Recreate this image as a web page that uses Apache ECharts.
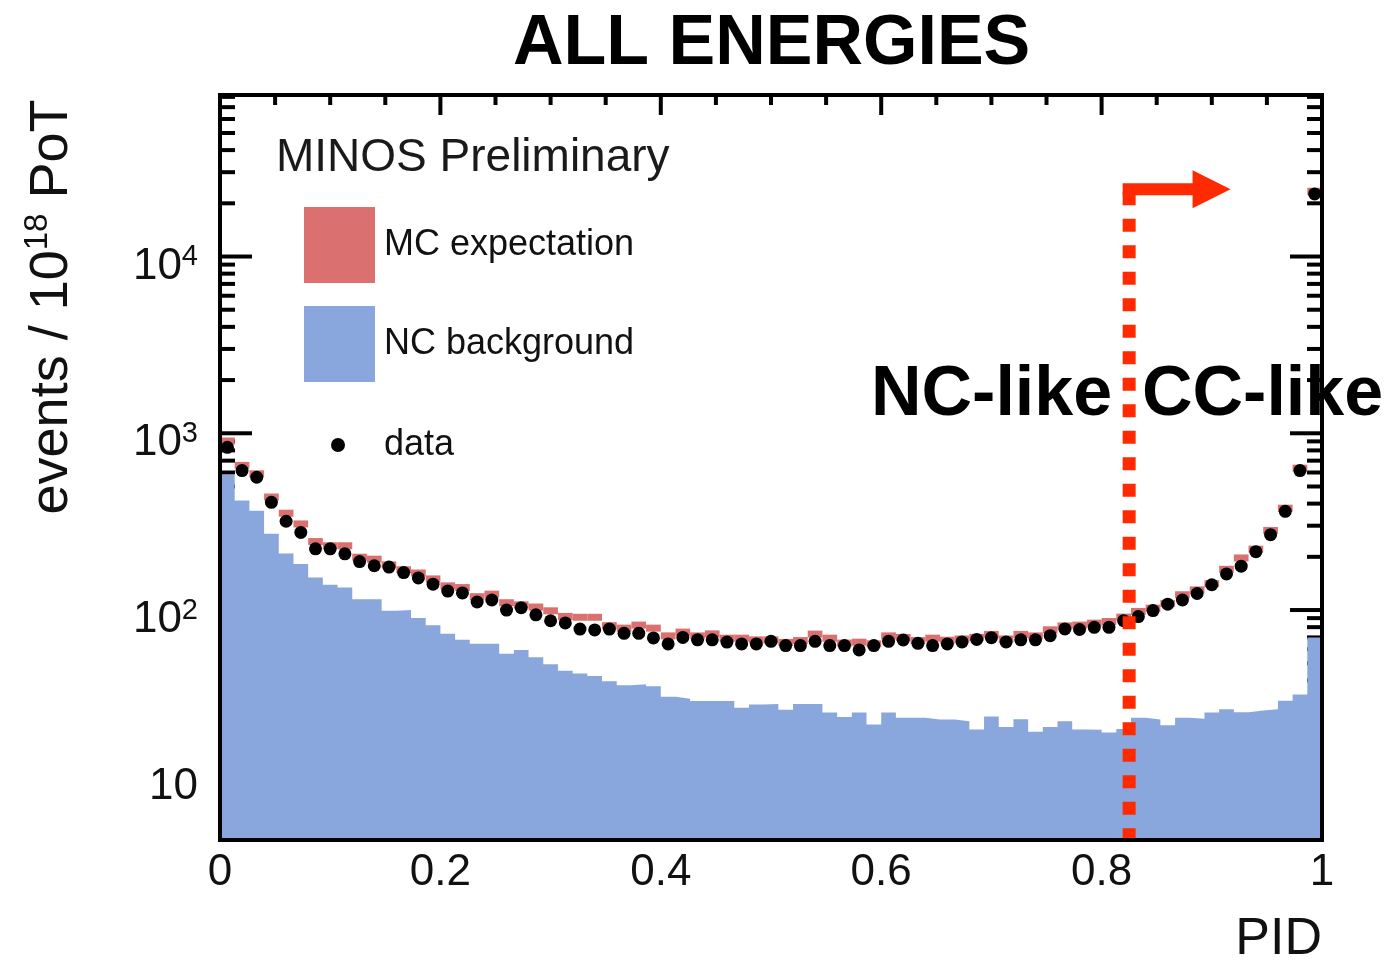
<!DOCTYPE html>
<html>
<head>
<meta charset="utf-8">
<title>ALL ENERGIES</title>
<script src="https://cdn.jsdelivr.net/npm/echarts@6/dist/echarts.min.js"></script>
<style>
  html, body { margin: 0; padding: 0; background: #fff; }
  #chart { width: 1389px; height: 964px; }
</style>
</head>
<body>
<div id="chart"></div>
<script>
// PID histogram, 75 bins between 0 and 1
const NBINS = 75;

// events / 1e18 PoT per bin
const dataCounts = [833, 615, 564, 407, 318, 275, 222, 222, 208, 188,
  178, 175, 163, 152, 140, 128, 125, 111, 114, 100,
  103, 94, 87, 84.5, 78, 77.2, 78, 73.8, 73.8, 69.5,
  64.3, 70, 67.8, 67.8, 65.9, 64.3, 64.3, 66.5, 62.9, 62.9,
  66.5, 62.9, 62.9, 59.5, 62.9, 66.5, 67.7, 64.8, 62.9, 64.3,
  66, 68.2, 69.8, 66, 67.8, 67.8, 71.6, 78.2, 77.6, 79.8,
  79.8, 87.1, 91.8, 99.3, 108, 114, 124, 139, 160, 177,
  214, 267, 362, 615, 22600];

const mcExpect = [904, 658, 590, 436, 353, 307, 244, 231, 231, 199,
  194, 180, 169, 162, 150, 137, 134, 119, 123, 110,
  107, 104, 99, 92, 91, 91, 81.6, 79, 82.2, 79,
  71.4, 75, 71.4, 73.3, 69.3, 69.3, 67.8, 67.8, 65.6, 67.2,
  73.1, 69.3, 65, 65.8, 64.4, 71.4, 70, 67.2, 69.3, 67.5,
  68.6, 70, 72.8, 68.6, 72.8, 71.4, 77.3, 81.3, 82.2, 84.3,
  86.1, 91.2, 98.2, 102.5, 109, 122, 130, 141, 170, 197,
  221, 282, 377, 635, 23400];

const ncBackground = [580, 416, 365, 270, 209, 182, 153, 139, 134, 115,
  115, 99, 100, 90, 82, 73.5, 68, 64.5, 64.5, 56.5,
  59.5, 54, 49.4, 45.4, 43.8, 42.4, 39.6, 37.5, 38, 37,
  32.3, 31.5, 30.6, 30.6, 30.6, 28, 29.2, 29.4, 27.3, 29.4,
  29.4, 26.3, 24.8, 26.3, 22.5, 26.3, 24.6, 24.6, 24, 24,
  23.5, 21.1, 25, 21.8, 24.1, 20.5, 21.8, 23.5, 21.1, 21,
  20.3, 21.2, 24.6, 24, 22.3, 24.6, 24.3, 26.3, 27.5, 26.4,
  27, 27.5, 30.7, 33.3, 70];

const xTickValues = [0, 0.2, 0.4, 0.6, 0.8, 1];
const yTickValues = [10, 100, 1000, 10000];
const yMin = 5, yMax = 82000;

// selection cut and arrow
const cutPID = 0.825;
const arrowEndPID = 0.917;
const arrowLevel = 24000;

const RED = '#da7070';
const BLUE = '#89a7dc';
const CUT = '#ff2a00';
const FONT = '"Liberation Sans", Arial, Helvetica, sans-serif';

// histogram outline points for the step area
const ncSteps = ncBackground.map((v, i) => [i / NBINS, v]);
ncSteps.push([1, ncBackground[NBINS - 1]]);

// tick list: [x, y, major, isY]
const ticks = [];
for (let k = 0; k <= 20; k++) {
  ticks.push([k * 0.05, 100, k % 4 === 0 ? 1 : 0, 0]);
}
for (let d = 1; d <= 10000; d *= 10) {
  for (let m = 1; m <= 9; m++) {
    const v = m * d;
    if (v < yMin || v > yMax) continue;
    ticks.push([0.5, v, m === 1 ? 1 : 0, 1]);
  }
}

const chart = echarts.init(document.getElementById('chart'));

chart.setOption({
  animation: false,
  backgroundColor: '#fff',
  title: {
    text: 'ALL ENERGIES',
    left: 513, top: 10, padding: 0,
    textStyle: { fontFamily: FONT, fontSize: 70, fontWeight: 'bold', color: '#000' }
  },
  grid: { left: 220, right: 67, top: 95, bottom: 124 },
  legend: [{
    orient: 'vertical',
    left: 304, top: 207, padding: 0,
    itemWidth: 71, itemHeight: 76, itemGap: 23,
    icon: 'rect',
    textStyle: { fontFamily: FONT, fontSize: 36, color: '#111', padding: [4, 0, 0, 4] },
    data: [
      { name: 'MC expectation', itemStyle: { color: RED } },
      { name: 'NC background', itemStyle: { color: BLUE } }
    ]
  }, {
    left: 331, top: 427, padding: 0,
    itemWidth: 14, itemHeight: 14,
    icon: 'circle',
    textStyle: { fontFamily: FONT, fontSize: 36, color: '#111', padding: [8, 0, 0, 34] },
    data: [{ name: 'data', itemStyle: { color: '#000' } }]
  }],
  xAxis: {
    type: 'value', min: 0, max: 1, interval: 0.2,
    axisLine: { show: false }, axisTick: { show: false }, splitLine: { show: false },
    axisLabel: {
      margin: 11, fontFamily: FONT, fontSize: 44, color: '#111',
      formatter: v => xTickValues.some(t => Math.abs(t - v) < 1e-9) ? String(+v.toFixed(1)) : ''
    }
  },
  yAxis: {
    type: 'log', logBase: 10, min: yMin, max: yMax,
    axisLine: { show: false }, axisTick: { show: false }, splitLine: { show: false },
    axisLabel: {
      margin: 22, fontFamily: FONT, color: '#111',
      formatter: v => {
        const e = Math.round(Math.log10(v));
        if (!yTickValues.includes(Math.pow(10, e)) || Math.abs(Math.log10(v) - e) > 1e-6) return '';
        return e === 1 ? '{b|10}' : '{p|10}{s|' + e + '}';
      },
      rich: {
        b: { fontFamily: FONT, fontSize: 44, color: '#111', lineHeight: 56 },
        p: { fontFamily: FONT, fontSize: 44, color: '#111', lineHeight: 56, padding: [20, 0, 0, 0] },
        s: { fontFamily: FONT, fontSize: 29, color: '#111', lineHeight: 29, verticalAlign: 'top', padding: [14, 0, 0, 0] }
      }
    }
  },
  graphic: [
    { type: 'text', left: 276, top: 135,
      style: { text: 'MINOS Preliminary', fontFamily: FONT, fontSize: 46, fill: '#1a1a1a' } },
    { type: 'text', left: 871, top: 361,
      style: { text: 'NC-like', fontFamily: FONT, fontSize: 70, fontWeight: 'bold', fill: '#000' } },
    { type: 'text', left: 1142, top: 361,
      style: { text: 'CC-like', fontFamily: FONT, fontSize: 70, fontWeight: 'bold', fill: '#000' } },
    { type: 'text', right: 67, top: 914,
      style: { text: 'PID', fontFamily: FONT, fontSize: 52, fill: '#111' } },
    { type: 'text', x: 52, y: 307, rotation: Math.PI / 2,
      style: {
        text: 'events / 10{s|18} PoT', fontFamily: FONT, fontSize: 54, fill: '#111',
        align: 'center', verticalAlign: 'middle', lineHeight: 62,
        rich: { s: { fontFamily: FONT, fontSize: 33, fill: '#111', lineHeight: 33, verticalAlign: 'top' } }
      } }
  ],
  series: [
    {
      // inward ticks on all four sides, under the histograms
      type: 'custom', name: 'ticks', silent: true, clip: false,
      renderItem: (params, api) => {
        const cs = params.coordSys;
        const major = api.value(2) === 1;
        const style = { stroke: '#000', lineWidth: 4 };
        if (api.value(3) === 0) {
          const px = api.coord([api.value(0), 100])[0];
          const len = major ? 20 : 10;
          return { type: 'group', children: [
            { type: 'line', shape: { x1: px, y1: cs.y, x2: px, y2: cs.y + len }, style },
            { type: 'line', shape: { x1: px, y1: cs.y + cs.height, x2: px, y2: cs.y + cs.height - len }, style }
          ] };
        }
        const py = api.coord([0.5, api.value(1)])[1];
        const len = major ? 32 : 15;
        return { type: 'group', children: [
          { type: 'line', shape: { x1: cs.x, y1: py, x2: cs.x + len, y2: py }, style },
          { type: 'line', shape: { x1: cs.x + cs.width, y1: py, x2: cs.x + cs.width - len, y2: py }, style }
        ] };
      },
      data: ticks
    },
    {
      name: 'NC background', type: 'line', step: 'end',
      showSymbol: false, symbol: 'none',
      itemStyle: { color: BLUE },
      lineStyle: { width: 0, color: BLUE },
      areaStyle: { color: BLUE, opacity: 1, origin: 'start' },
      data: ncSteps
    },
    {
      name: 'MC expectation', type: 'custom', itemStyle: { color: RED },
      renderItem: (params, api) => {
        const xc = api.value(0), v = api.value(1);
        const p0 = api.coord([xc - 0.5 / NBINS, v]);
        const p1 = api.coord([xc + 0.5 / NBINS, v]);
        return { type: 'rect', shape: { x: p0[0], y: p0[1] - 3.5, width: p1[0] - p0[0], height: 7 },
          style: { fill: RED } };
      },
      data: mcExpect.map((v, i) => [(i + 0.5) / NBINS, v])
    },
    {
      name: 'data', type: 'scatter', symbol: 'circle', symbolSize: 13,
      itemStyle: { color: '#000', opacity: 1 },
      data: dataCounts.map((v, i) => [(i + 0.5) / NBINS, v])
    },
    {
      // cut line with arrow towards CC-like
      type: 'custom', name: 'cut', silent: true, clip: false,
      renderItem: (params, api) => {
        const cs = params.coordSys;
        const top = api.coord([api.value(0), api.value(1)]);
        const tipX = api.coord([arrowEndPID, api.value(1)])[0];
        const baseX = tipX - 38;
        return { type: 'group', children: [
          { type: 'line', shape: { x1: top[0], y1: top[1] + 3, x2: top[0], y2: cs.y + cs.height + 6 },
            style: { stroke: CUT, lineWidth: 13, lineDash: [13, 13.5], lineCap: 'butt' } },
          { type: 'line', shape: { x1: top[0] - 6.5, y1: top[1], x2: baseX + 2, y2: top[1] },
            style: { stroke: CUT, lineWidth: 12 } },
          { type: 'polygon', shape: { points: [[baseX, top[1] - 19], [tipX, top[1]], [baseX, top[1] + 19]] },
            style: { fill: CUT } }
        ] };
      },
      data: [[cutPID, arrowLevel]],
      z: 5
    },
    {
      // frame
      type: 'custom', name: 'frame', silent: true, clip: false,
      renderItem: (params) => {
        const cs = params.coordSys;
        return { type: 'rect', shape: { x: cs.x, y: cs.y, width: cs.width, height: cs.height },
          style: { fill: 'none', stroke: '#000', lineWidth: 4 } };
      },
      data: [[0.5, 100]],
      z: 6
    }
  ]
});
</script>
</body>
</html>
